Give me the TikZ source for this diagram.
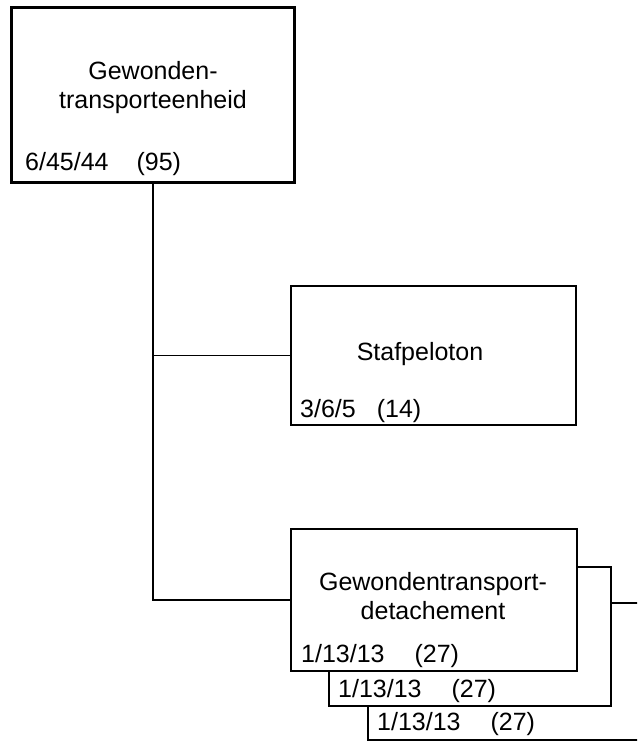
\documentclass[tikz,border=0pt]{standalone}
\usepackage{fontspec}
\setmainfont{Liberation Sans}

\begin{document}
\begin{tikzpicture}[x=1pt, y=-1pt]
\tikzset{
    unitbox/.style={rectangle, draw=black, fill=white, line width=1.8pt, inner sep=0pt, anchor=north west},
    topbox/.style={unitbox, line width=3pt},
    boxtitle/.style={align=center, font=\fontsize{25}{29}\selectfont, inner sep=0pt},
    boxcount/.style={anchor=base west, font=\fontsize{25}{29}\selectfont, inner sep=0pt},
    link/.style={line width=1.6pt}
}
\useasboundingbox (0,0) rectangle (637,741);
\clip (0,0) rectangle (637,741);

\node[topbox, minimum width=283pt, minimum height=175pt] (unit) at (10,6) {};
\node[boxtitle] (unittitle) at (153,88) {Gewonden-\\transporteenheid};
\node[boxcount] (unitcount) at (25,170) {6/45/44\hspace{28pt}(95)};

\node[unitbox, minimum width=285pt, minimum height=139pt] (staf) at (290,285) {};
\node[boxtitle] (staftitle) at (420,354) {Stafpeloton};
\node[boxcount] (stafcount) at (300,417) {3/6/5\hspace{21pt}(14)};

% stacked detachments, the back one runs off the page
\node[unitbox, minimum width=282pt, minimum height=137pt] (det3) at (367,602) {};
\node[boxcount] (det3count) at (377,730) {1/13/13\hspace{30pt}(27)};
\node[unitbox, minimum width=282pt, minimum height=139pt] (det2) at (328,566) {};
\node[boxcount] (det2count) at (338,697) {1/13/13\hspace{30pt}(27)};
\node[unitbox, minimum width=286pt, minimum height=142pt] (det1) at (290,528) {};
\node[boxtitle] (det1title) at (433,596) {Gewondentransport-\\detachement};
\node[boxcount] (det1count) at (301,662) {1/13/13\hspace{30pt}(27)};

\draw[link] (unit.south) |- (staf.west);
\draw[link] (unit.south) |- (det1.west);

\end{tikzpicture}
\end{document}
